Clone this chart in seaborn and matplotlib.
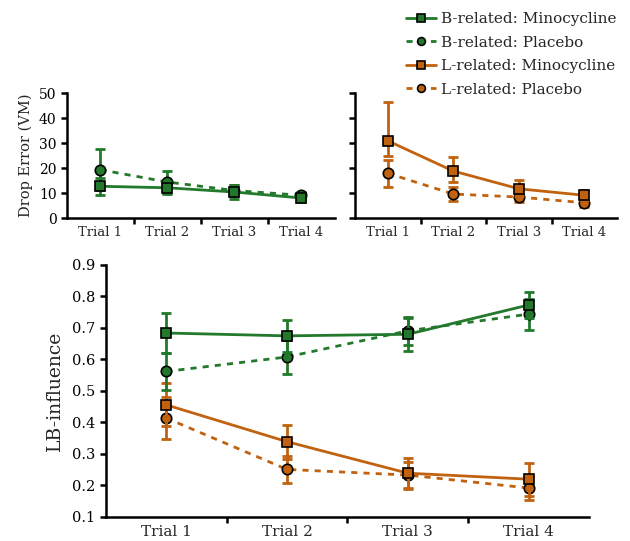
import numpy as np
import pandas as pd
import seaborn as sns
import matplotlib
matplotlib.use("Agg")
import matplotlib.pyplot as plt

trials = ["Trial 1", "Trial 2", "Trial 3", "Trial 4"]

# drop error (VM), top panels
drop_b_mino = [12.7, 12.1, 10.4, 8.0]
drop_b_mino_err = [3.3, 2.4, 2.8, 1.5]
drop_b_plac = [19.3, 14.4, 11.0, 9.1]
drop_b_plac_err = [8.2, 4.5, 2.3, 1.5]
drop_l_mino = [30.9, 18.8, 11.7, 9.1]
drop_l_mino_lo = [6.0, 4.4, 3.0, 2.0]
drop_l_mino_hi = [15.4, 5.7, 3.4, 2.0]
drop_l_plac = [17.9, 9.6, 8.4, 6.1]
drop_l_plac_err = [5.4, 2.8, 2.0, 1.5]

# LB-influence, bottom panel
lb_b_mino = [0.684, 0.675, 0.680, 0.773]
lb_b_mino_err = [0.064, 0.050, 0.052, 0.041]
lb_b_plac = [0.562, 0.608, 0.691, 0.744]
lb_b_plac_err = [0.058, 0.053, 0.045, 0.049]
lb_l_mino = [0.456, 0.339, 0.239, 0.220]
lb_l_mino_err = [0.068, 0.054, 0.049, 0.052]
lb_l_plac = [0.414, 0.251, 0.233, 0.192]
lb_l_plac_err = [0.068, 0.043, 0.041, 0.038]

GREEN = "#23792b"
ORANGE = "#c0620f"
SOLID = "-"
DASH = (0, (2.2, 2.2))

sns.set_style("ticks")
plt.rcParams["font.family"] = ["DejaVu Serif"]
plt.rcParams["axes.linewidth"] = 1.8


def draw(ax, vals, lo, hi, color, marker, ls, label, z):
    x = np.arange(len(trials))
    ax.errorbar(x, vals, yerr=[lo, hi], fmt="none", ecolor=color,
                elinewidth=2, capsize=3.5, capthick=2, zorder=z)
    sns.lineplot(x=x, y=vals, ax=ax, color=color, marker=marker,
                 linestyle=ls, linewidth=2, markersize=7.5,
                 markeredgecolor="black", markeredgewidth=1.2,
                 label=label, legend=False, zorder=z + 1)


def style_axes(ax, fs, show_ylabels=True):
    ax.set_xlim(-0.5, 3.5)
    ax.set_xticks([0.5, 1.5, 2.5])
    ax.set_xticklabels([])
    ax.set_xticks(range(len(trials)), minor=True)
    ax.set_xticklabels(trials, minor=True, fontsize=fs)
    ax.tick_params(axis="x", which="minor", length=0, pad=6)
    ax.tick_params(axis="x", which="major", length=4, width=1.8)
    ax.tick_params(axis="y", length=4, width=1.8, labelsize=fs + 0.5,
                   labelleft=show_ylabels, colors="black")
    ax.tick_params(axis="x", colors="black")
    for s in ["left", "bottom"]:
        ax.spines[s].set_color("black")
    sns.despine(ax=ax)


fig = plt.figure(figsize=(6.3, 5.41), dpi=100)
ax1 = fig.add_axes([0.1063, 0.597, 0.4254, 0.231])
ax2 = fig.add_axes([0.5635, 0.597, 0.4159, 0.231])
ax3 = fig.add_axes([0.168, 0.0444, 0.767, 0.4658])

draw(ax1, drop_b_plac, drop_b_plac_err, drop_b_plac_err, GREEN, "o", DASH, "B-related: Placebo", 2)
draw(ax1, drop_b_mino, drop_b_mino_err, drop_b_mino_err, GREEN, "s", SOLID, "B-related: Minocycline", 4)
draw(ax2, drop_l_plac, drop_l_plac_err, drop_l_plac_err, ORANGE, "o", DASH, "L-related: Placebo", 2)
draw(ax2, drop_l_mino, drop_l_mino_lo, drop_l_mino_hi, ORANGE, "s", SOLID, "L-related: Minocycline", 4)

for ax in (ax1, ax2):
    ax.set_ylim(0, 50)
    ax.set_yticks(range(0, 51, 10))
style_axes(ax1, 9.5)
style_axes(ax2, 9.5, show_ylabels=False)
ax1.set_ylabel("Drop Error (VM)", fontsize=10.5, labelpad=4)
ax2.set_ylabel("")
ax1.set_xlabel("")
ax2.set_xlabel("")

draw(ax3, lb_l_plac, lb_l_plac_err, lb_l_plac_err, ORANGE, "o", DASH, None, 2)
draw(ax3, lb_l_mino, lb_l_mino_err, lb_l_mino_err, ORANGE, "s", SOLID, None, 4)
draw(ax3, lb_b_plac, lb_b_plac_err, lb_b_plac_err, GREEN, "o", DASH, None, 6)
draw(ax3, lb_b_mino, lb_b_mino_err, lb_b_mino_err, GREEN, "s", SOLID, None, 8)
ax3.set_ylim(0.1, 0.9)
ax3.set_yticks(np.arange(0.1, 0.91, 0.1))
ax3.set_yticklabels([f"{v:.1f}" for v in np.arange(0.1, 0.91, 0.1)])
style_axes(ax3, 11)
ax3.tick_params(axis="y", labelsize=10.5)
ax3.set_ylabel("LB-influence", fontsize=13.5, labelpad=6)
ax3.set_xlabel("")

h1, l1 = ax1.get_legend_handles_labels()
h2, l2 = ax2.get_legend_handles_labels()
order = [1, 0]
handles = [h1[i] for i in order] + [h2[i] for i in order]
labels = [l1[i] for i in order] + [l2[i] for i in order]
fig.legend(handles, labels, loc="upper right", bbox_to_anchor=(0.995, 0.997),
           frameon=False, fontsize=11, handlelength=2.0, handletextpad=0.3,
           labelspacing=0.62, borderpad=0.2, markerscale=0.75)

fig.savefig("out.png", dpi=100)
